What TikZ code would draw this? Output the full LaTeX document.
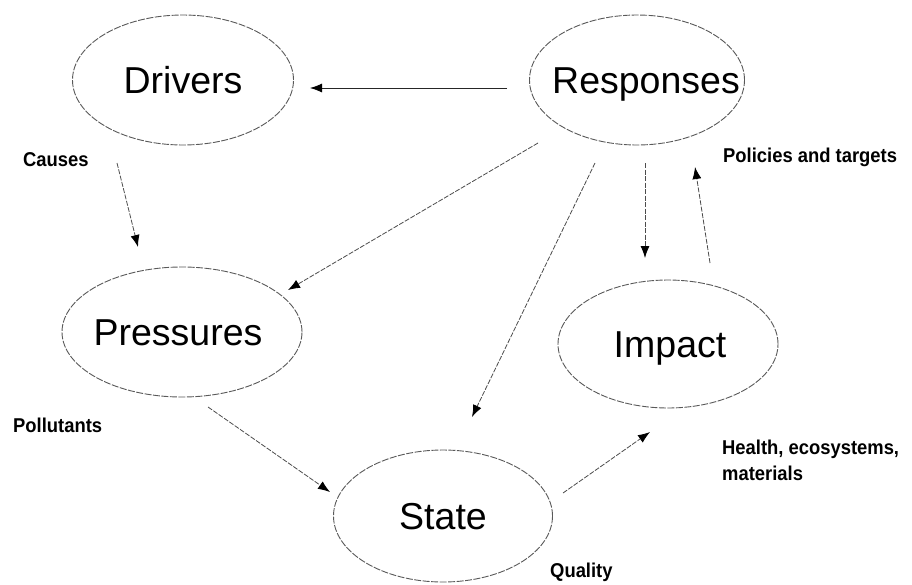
\documentclass[tikz,border=0pt]{standalone}
\usepackage{fontspec}
\setmainfont{Liberation Sans}
\newfontfamily\lblfont[FakeStretch=0.92]{Liberation Sans}
\usetikzlibrary{shapes.geometric,arrows.meta,calc}
\tikzset{
  stagebox/.style={ellipse, draw=black!65, line width=0.9pt,
    dash pattern=on 7pt off 1.5pt, inner sep=0pt},
  stagetext/.style={inner sep=0pt, text height=26pt, text depth=0pt,
    font=\fontsize{37.5}{40}\selectfont},
  lbl/.style={anchor=west, inner sep=0pt, align=left,
    font=\lblfont\bfseries\fontsize{20}{26}\selectfont},
  arr/.style={draw=black!70, line width=0.8pt, dash pattern=on 5pt off 1.5pt,
    -{Latex[length=12pt,width=9pt,color=black]}},
  solidarr/.style={arr, solid, draw=black!85}
}
\begin{document}
\begin{tikzpicture}[x=1pt,y=-1pt]
  \useasboundingbox[fill=white] (0,0) rectangle (912,584);

  % the five stages of the DPSIR cycle
  \node[stagebox, minimum width=221pt, minimum height=130pt] (drv) at (183,80) {};
  \node[stagebox, minimum width=215pt, minimum height=130pt] (rsp) at (637,80) {};
  \node[stagebox, minimum width=240pt, minimum height=130pt] (pre) at (182,332) {};
  \node[stagebox, minimum width=219pt, minimum height=132pt] (sta) at (443,516) {};
  \node[stagebox, minimum width=220pt, minimum height=128pt] (imp) at (668,344) {};

  \node[stagetext] (drvtxt) at ($(drv)+(0,0)$) {Drivers};
  \node[stagetext] (rsptxt) at ($(rsp)+(9,0)$) {Responses};
  \node[stagetext] (pretxt) at ($(pre)+(-4,0)$) {Pressures};
  \node[stagetext] (statxt) at ($(sta)+(0,0)$) {State};
  \node[stagetext] (imptxt) at ($(imp)+(2,0)$) {Impact};

  % annotations
  \node[lbl] (lcause)  at (23,160)  {Causes};
  \node[lbl] (lpolicy) at (723,157) {Policies and targets};
  \node[lbl] (lpollut) at (13,425)  {Pollutants};
  \node[lbl] (lhealth) at (722,460) {Health, ecosystems,\\materials};
  \node[lbl] (lqual)   at (550,572) {Quality};

  % links between stages
  \draw[solidarr] ($(rsp)+(-130,8)$) -- ($(drv)+(127,8)$);
  \draw[arr] ($(drv)+(-66,83)$) -- ($(pre)+(-44,-85)$);
  \draw[arr] ($(rsp)+(-99,63)$) -- ($(pre)+(106,-42)$);
  \draw[arr] ($(rsp)+(-42,83)$) -- ($(sta)+(29,-99)$);
  \draw[arr] ($(rsp)+(8,83)$) -- ($(imp)+(-23,-86)$);
  \draw[arr] ($(imp)+(42,-81)$) -- ($(rsp)+(58,87)$);
  \draw[arr] ($(pre)+(26,75)$) -- ($(sta)+(-113,-24)$);
  \draw[arr] ($(sta)+(120,-23)$) -- ($(imp)+(-18,88)$);
\end{tikzpicture}
\end{document}
